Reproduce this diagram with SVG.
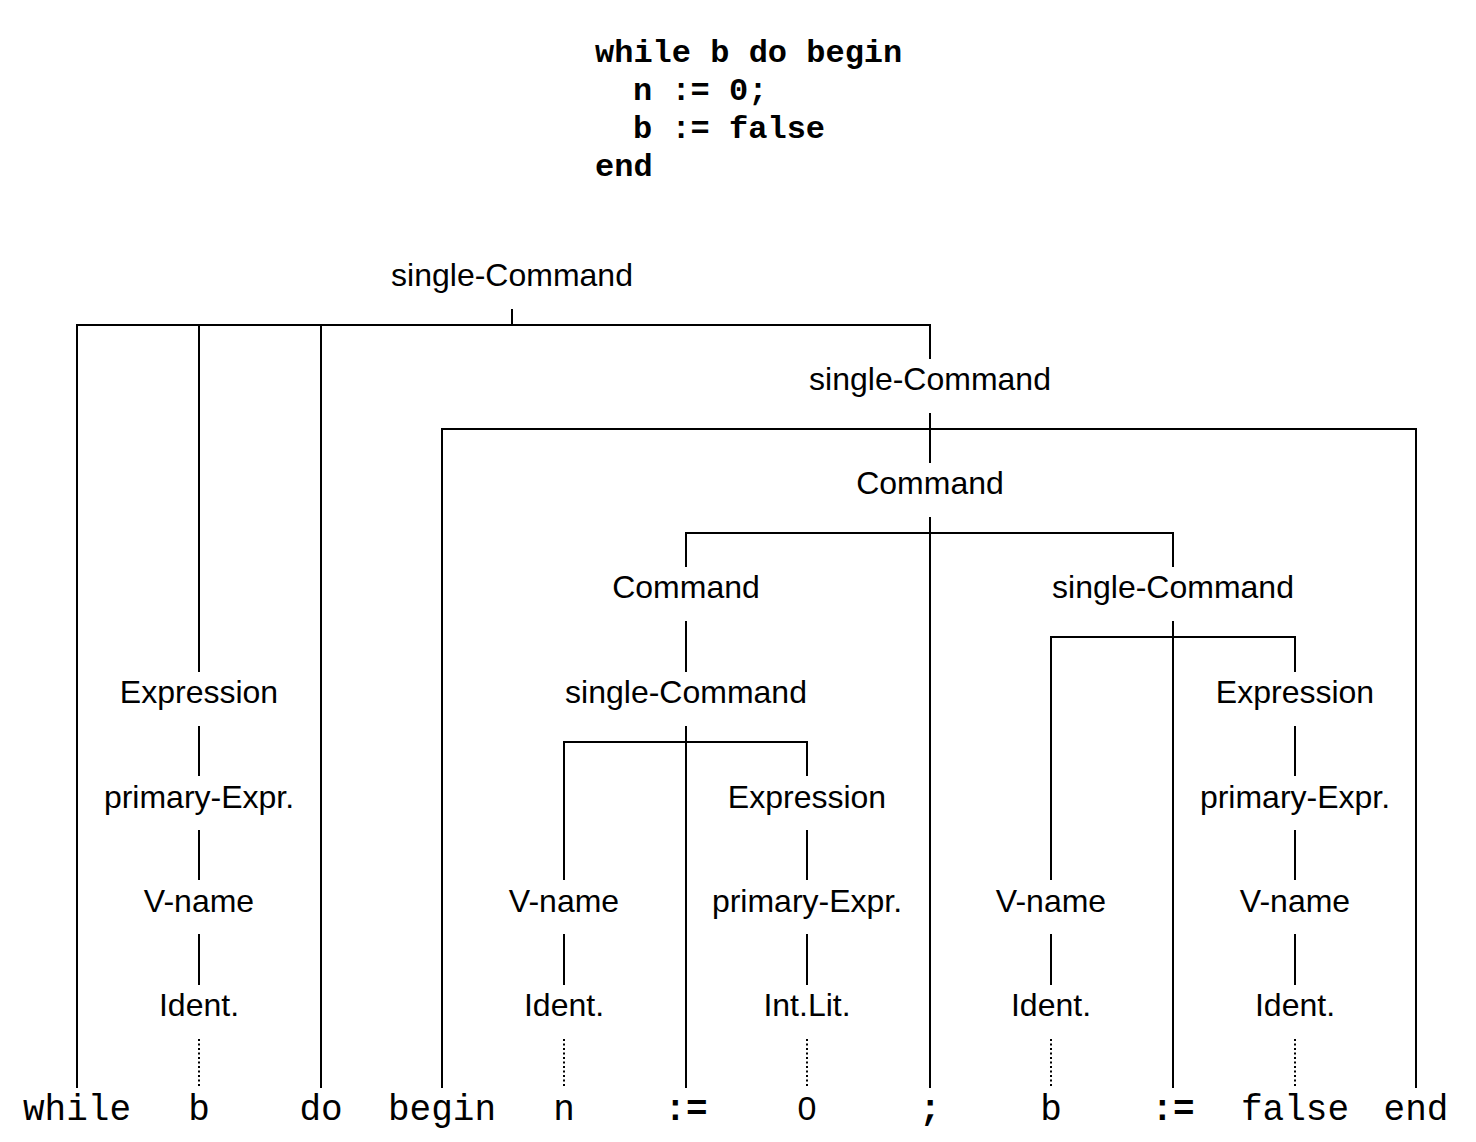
<svg xmlns="http://www.w3.org/2000/svg" width="1476" height="1142" viewBox="0 0 1476 1142">
<style>
.code{font-family:"Liberation Mono","Courier New",monospace;font-weight:bold;font-size:32px;fill:#000}
.lbl{font-family:"Liberation Sans",Arial,sans-serif;font-size:32px;fill:#000;text-anchor:middle}
.tok{font-family:"Liberation Mono","Courier New",monospace;font-size:36px;fill:#000;text-anchor:middle}
.tokb{font-family:"Liberation Mono","Courier New",monospace;font-weight:bold;font-size:36px;fill:#000;text-anchor:middle}
.tokh{font-family:"Liberation Sans",Arial,sans-serif;font-size:34px;fill:#000;text-anchor:middle}
.ln{stroke:#000;stroke-width:2;fill:none}
.dot{stroke:#000;stroke-width:2;fill:none;stroke-dasharray:2 2.5}
</style>
<rect width="1476" height="1142" fill="#fff"/>
<g id="code">
<text class="code" x="595" y="62">while b do begin</text>
<text class="code" x="633" y="100">n := 0;</text>
<text class="code" x="633" y="138">b := false</text>
<text class="code" x="595" y="176">end</text>
</g>
<g id="connectors">
<line class="ln" x1="512" y1="309" x2="512" y2="325"/>
<line class="ln" x1="76" y1="325" x2="931" y2="325"/>
<line class="ln" x1="77" y1="325" x2="77" y2="1088"/>
<line class="ln" x1="199" y1="325" x2="199" y2="672"/>
<line class="ln" x1="321" y1="325" x2="321" y2="1088"/>
<line class="ln" x1="930" y1="325" x2="930" y2="359"/>
<line class="ln" x1="930" y1="413" x2="930" y2="463"/>
<line class="ln" x1="441" y1="429" x2="1417" y2="429"/>
<line class="ln" x1="442" y1="429" x2="442" y2="1088"/>
<line class="ln" x1="1416" y1="429" x2="1416" y2="1088"/>
<line class="ln" x1="930" y1="517" x2="930" y2="1088"/>
<line class="ln" x1="685" y1="533" x2="1174" y2="533"/>
<line class="ln" x1="686" y1="533" x2="686" y2="567"/>
<line class="ln" x1="1173" y1="533" x2="1173" y2="567"/>
<line class="ln" x1="686" y1="621" x2="686" y2="672"/>
<line class="ln" x1="686" y1="726" x2="686" y2="1088"/>
<line class="ln" x1="563" y1="742" x2="808" y2="742"/>
<line class="ln" x1="564" y1="742" x2="564" y2="880"/>
<line class="ln" x1="807" y1="742" x2="807" y2="776"/>
<line class="ln" x1="807" y1="830" x2="807" y2="880"/>
<line class="ln" x1="807" y1="934" x2="807" y2="985"/>
<line class="dot" x1="807" y1="1039" x2="807" y2="1088"/>
<line class="ln" x1="564" y1="934" x2="564" y2="985"/>
<line class="dot" x1="564" y1="1039" x2="564" y2="1088"/>
<line class="ln" x1="1173" y1="621" x2="1173" y2="1088"/>
<line class="ln" x1="1050" y1="637" x2="1296" y2="637"/>
<line class="ln" x1="1051" y1="637" x2="1051" y2="880"/>
<line class="ln" x1="1295" y1="637" x2="1295" y2="672"/>
<line class="ln" x1="1295" y1="726" x2="1295" y2="776"/>
<line class="ln" x1="1295" y1="830" x2="1295" y2="880"/>
<line class="ln" x1="1295" y1="934" x2="1295" y2="985"/>
<line class="dot" x1="1295" y1="1039" x2="1295" y2="1088"/>
<line class="ln" x1="1051" y1="934" x2="1051" y2="985"/>
<line class="dot" x1="1051" y1="1039" x2="1051" y2="1088"/>
<line class="ln" x1="199" y1="726" x2="199" y2="776"/>
<line class="ln" x1="199" y1="830" x2="199" y2="880"/>
<line class="ln" x1="199" y1="934" x2="199" y2="985"/>
<line class="dot" x1="199" y1="1039" x2="199" y2="1088"/>
</g>
<g id="n-sc1"><text class="lbl" x="512" y="286">single-Command</text></g>
<g id="n-sc2"><text class="lbl" x="930" y="390">single-Command</text></g>
<g id="n-cmd1"><text class="lbl" x="930" y="494">Command</text></g>
<g id="n-cmd2"><text class="lbl" x="686" y="598">Command</text></g>
<g id="n-sc3"><text class="lbl" x="1173" y="598">single-Command</text></g>
<g id="n-expr1"><text class="lbl" x="199" y="703">Expression</text></g>
<g id="n-sc4"><text class="lbl" x="686" y="703">single-Command</text></g>
<g id="n-expr3"><text class="lbl" x="1295" y="703">Expression</text></g>
<g id="n-pe1"><text class="lbl" x="199" y="808">primary-Expr.</text></g>
<g id="n-expr2"><text class="lbl" x="807" y="808">Expression</text></g>
<g id="n-pe3"><text class="lbl" x="1295" y="808">primary-Expr.</text></g>
<g id="n-vn1"><text class="lbl" x="199" y="912">V-name</text></g>
<g id="n-vn2"><text class="lbl" x="564" y="912">V-name</text></g>
<g id="n-pe2"><text class="lbl" x="807" y="912">primary-Expr.</text></g>
<g id="n-vn3"><text class="lbl" x="1051" y="912">V-name</text></g>
<g id="n-vn4"><text class="lbl" x="1295" y="912">V-name</text></g>
<g id="n-id1"><text class="lbl" x="199" y="1016">Ident.</text></g>
<g id="n-id2"><text class="lbl" x="564" y="1016">Ident.</text></g>
<g id="n-il"><text class="lbl" x="807" y="1016">Int.Lit.</text></g>
<g id="n-id3"><text class="lbl" x="1051" y="1016">Ident.</text></g>
<g id="n-id4"><text class="lbl" x="1295" y="1016">Ident.</text></g>
<g id="t-while"><text class="tok" x="77" y="1120">while</text></g>
<g id="t-b1"><text class="tok" x="199" y="1120">b</text></g>
<g id="t-do"><text class="tok" x="321" y="1120">do</text></g>
<g id="t-begin"><text class="tok" x="442" y="1120">begin</text></g>
<g id="t-n"><text class="tok" x="564" y="1120">n</text></g>
<g id="t-as1"><text class="tokb" x="686" y="1120">:=</text></g>
<g id="t-0"><text class="tokh" x="807" y="1120">0</text></g>
<g id="t-semi"><text class="tokb" x="930" y="1120">;</text></g>
<g id="t-b2"><text class="tok" x="1051" y="1120">b</text></g>
<g id="t-as2"><text class="tokb" x="1173" y="1120">:=</text></g>
<g id="t-false"><text class="tok" x="1295" y="1120">false</text></g>
<g id="t-end"><text class="tok" x="1416" y="1120">end</text></g>
</svg>
